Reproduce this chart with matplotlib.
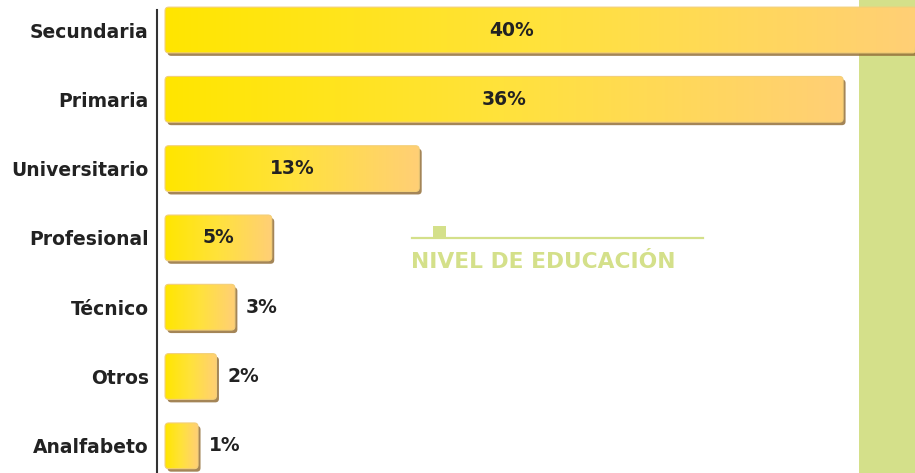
import numpy as np
import matplotlib
matplotlib.use("Agg")
import matplotlib.pyplot as plt
from matplotlib.patches import FancyBboxPatch, Rectangle
from matplotlib.colors import LinearSegmentedColormap

plt.rcParams["font.family"] = "DejaVu Sans"

# data
categories = ["Secundaria", "Primaria", "Universitario", "Profesional",
              "Técnico", "Otros", "Analfabeto"]
values = [40, 36, 13, 5, 3, 2, 1]
labels = ["40%", "36%", "13%", "5%", "3%", "2%", "1%"]
title = "NIVEL DE EDUCACIÓN"

W, H = 915, 473
fig = plt.figure(figsize=(W / 100, H / 100), dpi=100)

# green strip on the right
green = "#d4e08a"
fig.patches.append(Rectangle((859 / W, 0), 1 - 859 / W, 1, transform=fig.transFigure,
                             facecolor=green, edgecolor="none", zorder=-5))

ax = fig.add_axes([157 / W, 0, 1 - 157 / W, 1])
ax.patch.set_alpha(0)

px_x = 18.43          # pixels per percent
px_y = 69.3           # pixels per row
x0 = -0.79            # bars start a bit left of zero
bar_h = 0.66
y_top_lim = -30 / px_y
y_bot_lim = (473 - 30) / px_y

cmap = LinearSegmentedColormap.from_list("bar", ["#ffe600", "#ffe23c", "#ffcf76"])
grad = np.linspace(0, 1, 256).reshape(1, -1)
asp = (1 / px_y) / (1 / px_x)
strip_x = (859 - 179.6) / px_x

for i, (v, lab) in enumerate(zip(values, labels)):
    y_top = i - bar_h / 2
    # shadow
    sh = FancyBboxPatch((x0 + 2.5 / px_x, y_top + 3 / px_y), v - x0, bar_h,
                        boxstyle="round,pad=0,rounding_size=0.2",
                        mutation_aspect=asp, facecolor="#94703a",
                        edgecolor="none", alpha=0.85, zorder=1)
    ax.add_patch(sh)
    box = FancyBboxPatch((x0, y_top), v - x0, bar_h,
                         boxstyle="round,pad=0,rounding_size=0.2",
                         mutation_aspect=asp, facecolor="none",
                         edgecolor="#f3cf78", linewidth=0.8, zorder=3)
    ax.add_patch(box)
    im = ax.imshow(grad, cmap=cmap, aspect="auto", interpolation="bilinear",
                   extent=[x0, v, y_top + bar_h, y_top], zorder=2)
    im.set_clip_path(box)

    if v >= 5:
        xc = (x0 + min(v, strip_x)) / 2
        ax.text(xc, i, lab, ha="center", va="center", fontsize=13.5,
                fontweight="bold", color="#222222", zorder=4)
    else:
        ax.text(v + 0.6, i, lab, ha="left", va="center", fontsize=13.5,
                fontweight="bold", color="#222222", zorder=4)

ax.set_xlim((157 - 179.6) / px_x, (915 - 179.6) / px_x)
ax.set_ylim(y_bot_lim, y_top_lim)

ax.set_yticks(range(len(categories)))
ax.set_yticklabels(categories, fontsize=13.5, fontweight="bold", color="#222222")
ax.tick_params(axis="y", length=0, pad=6)
ax.set_xticks([])
for s in ["top", "right", "bottom"]:
    ax.spines[s].set_visible(False)
ax.spines["left"].set_color("#333333")
ax.spines["left"].set_linewidth(1.5)
ax.spines["left"].set_bounds(y_bot_lim, (10 - 30) / px_y)

# title block
fig.add_artist(plt.Line2D([412 / W, 703 / W], [1 - 238 / H, 1 - 238 / H],
                          transform=fig.transFigure, color=green, linewidth=1.6))
fig.patches.append(Rectangle((433 / W, 1 - 238 / H), 13 / W, 12 / H,
                             transform=fig.transFigure, facecolor=green,
                             edgecolor="none"))
fig.text(411 / W, 1 - 262 / H, title, ha="left", va="center", fontsize=15.7,
         fontweight="bold", color=green)

fig.savefig("out.png", dpi=100)
